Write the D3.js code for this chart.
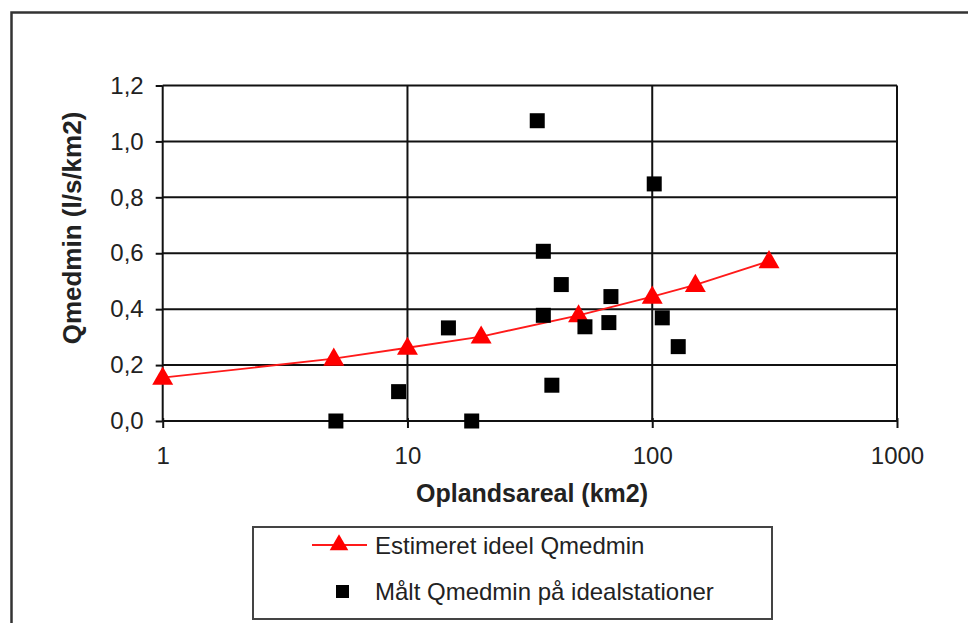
<!DOCTYPE html>
<html>
<head>
<meta charset="utf-8">
<script src="https://cdn.jsdelivr.net/npm/d3@7/dist/d3.min.js"></script>
<style>
  html, body { margin: 0; padding: 0; background: #fff; }
  svg { display: block; font-family: "Liberation Sans", Arial, sans-serif; }
</style>
</head>
<body>
<svg id="chart" width="968" height="623"></svg>
<script>
// Estimated ideal Qmedmin (power curve evaluated at selected catchment areas)
const estArea  = [1, 5, 10, 20, 50, 100, 150, 300];
const estQ     = [0.155, 0.223, 0.262, 0.302, 0.378, 0.445, 0.487, 0.572];

// Measured Qmedmin at ideal stations
const obsArea  = [33.9, 101.9, 35.9, 42.5, 67.8, 35.9, 53.1, 66.5, 109.9, 127.7, 14.7, 9.2, 38.9, 5.1, 18.3];
const obsQ     = [1.074, 0.848, 0.607, 0.488, 0.445, 0.378, 0.337, 0.352, 0.369, 0.266, 0.333, 0.105, 0.128, 0.0, 0.0];

const xTicks   = [1, 10, 100, 1000];
const yTicks   = [0, 0.2, 0.4, 0.6, 0.8, 1.0, 1.2];

const xTitle   = "Oplandsareal (km2)";
const yTitle   = "Qmedmin (l/s/km2)";
const legendLabels = ["Estimeret ideel Qmedmin", "Målt Qmedmin på idealstationer"];

const svg = d3.select("#chart");

// outer chart frame
svg.append("rect")
  .attr("x", 11.5).attr("y", 12.5)
  .attr("width", 1000).attr("height", 700)
  .attr("fill", "none").attr("stroke", "#333").attr("stroke-width", 2.5);

const x = d3.scaleLog().domain([1, 1000]).range([162.7, 897]);
const y = d3.scaleLinear().domain([0, 1.2]).range([421, 85.5]);

const fmt = d => d3.format(".1f")(d).replace(".", ",");

// gridlines
const grid = svg.append("g").attr("stroke", "#111").attr("stroke-width", 2);
grid.selectAll("line.h").data(yTicks).join("line")
  .attr("x1", x(1)).attr("x2", x(1000))
  .attr("y1", d => y(d)).attr("y2", d => y(d));
grid.selectAll("line.v").data(xTicks).join("line")
  .attr("x1", d => x(d)).attr("x2", d => x(d))
  .attr("y1", y(0)).attr("y2", y(1.2));

// y axis
const yAxis = svg.append("g")
  .attr("transform", `translate(${x(1)},0)`)
  .call(d3.axisLeft(y).tickValues(yTicks).tickFormat(fmt).tickSize(7).tickPadding(12));
yAxis.select(".domain").remove();
yAxis.selectAll(".tick line").attr("stroke", "#111").attr("stroke-width", 2);
yAxis.selectAll(".tick text").attr("font-size", 24).attr("fill", "#222")
  .attr("font-family", "Liberation Sans, Arial, sans-serif");

// x axis
const xAxis = svg.append("g")
  .attr("transform", `translate(0,${y(0)})`)
  .call(d3.axisBottom(x).tickValues(xTicks).tickFormat(d3.format("d")).tickSize(7).tickPadding(19));
xAxis.select(".domain").remove();
xAxis.selectAll(".tick line").attr("stroke", "#111").attr("stroke-width", 2).attr("y1", -3);
xAxis.selectAll(".tick text").attr("font-size", 24).attr("fill", "#222")
  .attr("font-family", "Liberation Sans, Arial, sans-serif");

// axis titles
svg.append("text")
  .attr("x", 532).attr("y", 502)
  .attr("text-anchor", "middle")
  .attr("font-size", 25).attr("font-weight", "bold").attr("fill", "#222")
  .text(xTitle);
svg.append("text")
  .attr("transform", "translate(81,228) rotate(-90)")
  .attr("text-anchor", "middle")
  .attr("font-size", 26).attr("font-weight", "bold").attr("fill", "#222")
  .text(yTitle);

// estimated curve
const est = estArea.map((a, i) => ({a, q: estQ[i]}));
svg.append("path")
  .datum(est)
  .attr("fill", "none").attr("stroke", "#ff1a1a").attr("stroke-width", 1.8)
  .attr("d", d3.line().x(d => x(d.a)).y(d => y(d.q)));

const tri = d3.symbol().type(d3.symbolTriangle).size(190);
svg.append("g").selectAll("path").data(est).join("path")
  .attr("transform", d => `translate(${x(d.a)},${y(d.q) + 1})`)
  .attr("d", tri).attr("fill", "#ff0000");

// measured stations
const obs = obsArea.map((a, i) => ({a, q: obsQ[i]}));
const sq = 15;
svg.append("g").selectAll("rect").data(obs).join("rect")
  .attr("x", d => x(d.a) - sq / 2).attr("y", d => y(d.q) - sq / 2)
  .attr("width", sq).attr("height", sq).attr("fill", "#000");

// legend
const lg = svg.append("g");
lg.append("rect")
  .attr("x", 253).attr("y", 527).attr("width", 519).attr("height", 92)
  .attr("fill", "#fff").attr("stroke", "#444").attr("stroke-width", 2);
lg.append("line")
  .attr("x1", 312).attr("x2", 367).attr("y1", 545).attr("y2", 545)
  .attr("stroke", "#ff1a1a").attr("stroke-width", 1.8);
lg.append("path")
  .attr("transform", "translate(339,545)")
  .attr("d", d3.symbol().type(d3.symbolTriangle).size(150)).attr("fill", "#ff0000");
lg.append("rect")
  .attr("x", 336).attr("y", 585).attr("width", 13).attr("height", 13).attr("fill", "#000");
lg.selectAll("text").data(legendLabels).join("text")
  .attr("x", 375).attr("y", (d, i) => 554 + i * 46)
  .attr("font-size", 24).attr("fill", "#222")
  .text(d => d);
</script>
</body>
</html>
